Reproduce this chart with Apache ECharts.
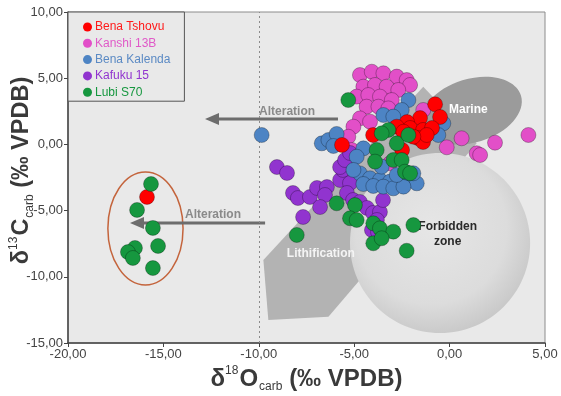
<!DOCTYPE html>
<html>
<head>
<meta charset="utf-8">
<script src="https://cdn.jsdelivr.net/npm/echarts@6/dist/echarts.min.js"></script>
<style>
  html, body { margin: 0; padding: 0; background: #fff; }
  #chart { width: 561px; height: 396px; }
</style>
</head>
<body>
<div id="chart"></div>
<script>
// sample values [δ18O, δ13C]
const benaTshovu = [
  [-0.76, 3.03], [-0.50, 2.07], [-1.55, 1.99], [-2.23, 1.69], [-2.07, 1.24], [-1.39, 1.09],
  [-0.92, 1.24], [-1.66, 0.48], [-1.39, 0.18], [-2.77, 1.34], [-2.42, 0.96], [-4.01, 0.71],
  [-5.64, -0.04], [-2.49, -0.42], [-1.20, 0.71], [-1.90, 0.58], [-15.86, -3.97]
];
const kanshi13B = [
  [-4.70, 5.24], [-4.08, 5.49], [-3.47, 5.37], [-2.77, 5.12], [-2.25, 4.86], [-2.07, 4.49],
  [-4.52, 4.36], [-3.91, 4.49], [-3.30, 4.36], [-2.69, 4.11], [-4.87, 3.61], [-4.26, 3.73],
  [-3.65, 3.61], [-3.03, 3.35], [-4.35, 2.85], [-3.73, 2.85], [-3.21, 2.72], [-4.70, 1.97],
  [-4.17, 1.72], [-5.04, 1.34], [-5.31, 0.58], [-5.13, -0.42], [-1.38, 2.60], [-3.12, -1.43],
  [-0.15, -0.22], [0.63, 0.46], [1.42, -0.67], [1.60, -0.80], [2.38, 0.13], [4.13, 0.71]
];
const benaKalenda = [
  [-9.85, 0.71], [-6.70, 0.08], [-6.35, 0.33], [-5.92, 0.79], [-6.09, -0.12], [-2.16, 3.35],
  [-2.51, 2.60], [-3.47, 2.22], [-2.95, 2.10], [-0.33, 1.59], [-0.59, 0.71], [-4.52, -0.30],
  [-4.87, -0.93], [-4.70, -2.19], [-4.17, -2.56], [-3.65, -2.69], [-3.12, -2.81], [-2.60, -2.94],
  [-2.07, -2.69], [-1.72, -2.94], [-4.52, -2.99], [-4.00, -3.14], [-3.47, -3.19], [-2.95, -3.32],
  [-2.42, -3.19], [-2.77, -2.31], [-2.25, -2.13], [-5.04, -1.93], [-1.90, -2.18], [-3.56, -1.68]
];
const kafuku15 = [
  [-9.05, -1.71], [-8.52, -2.16], [-8.21, -3.67], [-7.95, -4.05], [-7.32, -3.97], [-6.95, -3.29],
  [-6.43, -3.22], [-6.53, -3.82], [-6.79, -4.73], [-7.68, -5.48], [-5.74, -2.69], [-5.59, -1.93],
  [-5.74, -1.71], [-5.22, -2.92], [-5.38, -3.67], [-5.06, -4.20], [-4.70, -4.35], [-4.33, -4.80],
  [-4.01, -5.18], [-3.65, -5.11], [-3.49, -4.20], [-3.81, -5.71], [-4.07, -6.47], [-5.48, -1.18],
  [-5.22, -0.65], [-3.75, -6.62]
];
const lubiS70 = [
  [-5.31, 3.35], [-3.21, 1.09], [-3.56, 0.84], [-2.77, 0.08], [-2.16, 0.71], [-3.82, -0.42],
  [-3.91, -1.30], [-2.95, -1.18], [-2.51, -1.18], [-2.34, -2.06], [-2.07, -2.18], [-5.92, -4.45],
  [-4.96, -4.58], [-5.22, -5.58], [-4.87, -5.71], [-4.00, -5.96], [-3.65, -6.34], [-2.95, -6.59],
  [-1.90, -6.09], [-4.00, -7.47], [-3.56, -7.09], [-2.25, -8.03], [-8.01, -6.84],
  [-15.65, -2.99], [-16.38, -4.95], [-15.55, -6.31], [-15.28, -7.67], [-16.49, -7.82],
  [-16.86, -8.13], [-16.60, -8.58], [-15.55, -9.34]
];

const seriesNames = ['Bena Tshovu', 'Kanshi 13B', 'Bena Kalenda', 'Kafuku 15', 'Lubi S70'];
const seriesColors = ['#ff0000', '#e24fc8', '#4d84c4', '#9134cf', '#16973f'];
const legendTextColors = ['#ff1a1a', '#e05ac8', '#5b8ac4', '#9134cf', '#16973f'];

// background annotation shapes, in data units
const bandPoly = [[-9.76, -8.73], [-9.50, -13.26], [-6.35, -13.01], [1.42, 0.08], [-1.38, 4.36]];
const marine = { c: [1.16, 2.55], r: [2.7, 2.4] };
const forbidden = { c: [-0.50, -7.45], r: [4.72, 6.8] };
const cluster = { c: [-15.94, -6.35], r: [1.97, 4.27] };
const arrows = [
  { from: [-5.85, 1.92], to: [-12.82, 1.92], label: [-8.52, 2.45] },
  { from: [-9.67, -5.94], to: [-16.75, -5.94], label: [-12.40, -5.28] }
];

const chart = echarts.init(document.getElementById('chart'));
const fmt = v => v.toFixed(2).replace('.', ',');
const font = 'Liberation Sans, Arial, sans-serif';

function renderShapes(params, api) {
  const kids = [];
  kids.push({
    type: 'polygon',
    shape: { points: bandPoly.map(p => api.coord(p)) },
    style: { fill: '#b3b3b3' }
  });
  let c = api.coord(forbidden.c), s = api.size(forbidden.r);
  kids.push({
    type: 'ellipse',
    shape: { cx: c[0], cy: c[1], rx: s[0], ry: s[1] },
    style: {
      fill: {
        type: 'radial', x: 0.45, y: 0.42, r: 0.6,
        colorStops: [
          { offset: 0, color: '#e6e6e6' },
          { offset: 0.7, color: '#dcdcdc' },
          { offset: 1, color: '#c8c8c8' }
        ]
      }
    }
  });
  c = api.coord(marine.c); s = api.size(marine.r);
  kids.push({
    type: 'ellipse',
    x: c[0], y: c[1], rotation: 0.3,
    shape: { cx: 0, cy: 0, rx: s[0], ry: s[1] },
    style: { fill: '#9b9b9b' }
  });
  c = api.coord(cluster.c); s = api.size(cluster.r);
  kids.push({
    type: 'ellipse',
    shape: { cx: c[0], cy: c[1], rx: s[0], ry: s[1] },
    style: { fill: null, stroke: '#c4643c', lineWidth: 1.5 }
  });
  arrows.forEach(a => {
    const p1 = api.coord(a.from), p2 = api.coord(a.to);
    kids.push({
      type: 'line',
      shape: { x1: p1[0], y1: p1[1], x2: p2[0] + 10, y2: p2[1] },
      style: { stroke: '#6d6d6d', lineWidth: 3 }
    });
    kids.push({
      type: 'polygon',
      shape: { points: [[p2[0], p2[1]], [p2[0] + 14, p2[1] - 6], [p2[0] + 14, p2[1] + 6]] },
      style: { fill: '#6d6d6d' }
    });
    const l = api.coord(a.label);
    kids.push({
      type: 'text', x: l[0], y: l[1],
      style: { text: 'Alteration', fill: '#8a8a8a', font: 'bold 12px ' + font, align: 'center', verticalAlign: 'middle' }
    });
  });
  const txt = (pos, text, fill) => {
    const p = api.coord(pos);
    kids.push({
      type: 'text', x: p[0], y: p[1],
      style: { text: text, fill: fill, font: 'bold 12px ' + font, align: 'center', verticalAlign: 'middle', lineHeight: 15 }
    });
  };
  txt([0.98, 2.60], 'Marine', '#ffffff');
  txt([-6.75, -8.25], 'Lithification', '#f4f4f4');
  txt([-0.10, -6.8], 'Forbidden\nzone', '#2a2a2a');
  return { type: 'group', children: kids };
}

const allData = [kanshi13B, kafuku15, benaKalenda, benaTshovu, lubiS70];
const order = [1, 3, 2, 0, 4];

const scatterSeries = order.map((idx, k) => ({
  name: seriesNames[idx],
  type: 'scatter',
  data: allData[k],
  symbolSize: 15,
  z: 5 + k,
  itemStyle: { color: seriesColors[idx], borderColor: 'rgba(0,0,0,0.35)', borderWidth: 0.8, opacity: 1 }
}));

const makeRich = size => ({
  b: { fontSize: size, fontWeight: 'bold', color: '#3a3a3a', fontFamily: font, lineHeight: 28 },
  sup: { fontSize: 12, color: '#3a3a3a', fontFamily: font, verticalAlign: 'top', padding: [0, 1, 9, 0] },
  sub: { fontSize: 12, color: '#3a3a3a', fontFamily: font, verticalAlign: 'bottom', padding: [11, 0, 0, 1] }
});

chart.setOption({
  animation: false,
  textStyle: { fontFamily: font },
  grid: {
    left: 68, right: 16, top: 12, bottom: 53,
    outerBoundsMode: 'none', containLabel: false,
    show: true, backgroundColor: '#e9e9e9', borderColor: '#8c8c8c', borderWidth: 1
  },
  legend: {
    orient: 'vertical', left: 68, top: 12,
    icon: 'circle', itemWidth: 9, itemHeight: 9, itemGap: 2.3,
    padding: [8, 14, 2, 15],
    backgroundColor: '#e9e9e9', borderColor: '#555', borderWidth: 1,
    itemStyle: { borderWidth: 0 },
    textStyle: { fontSize: 12, fontFamily: font, lineHeight: 14, padding: [0, 0, 0, -2] },
    data: seriesNames.map((n, i) => ({ name: n, textStyle: { color: legendTextColors[i] } }))
  },
  xAxis: {
    type: 'value', min: -20, max: 5, interval: 5,
    axisLine: { onZero: false, lineStyle: { color: '#444', width: 1.5 } },
    axisTick: { show: true, length: 4, lineStyle: { color: '#444' } },
    axisLabel: { formatter: fmt, color: '#444', fontSize: 13, margin: 5 },
    splitLine: { show: false },
    name: '{b|δ}{sup|18}{b|O}{sub|carb}{b| (‰ VPDB)}',
    nameLocation: 'middle', nameGap: 22, nameMoveOverlap: false,
    nameTextStyle: { rich: makeRich(24) }
  },
  yAxis: {
    type: 'value', min: -15, max: 10, interval: 5,
    axisLine: { onZero: false, lineStyle: { color: '#444', width: 1.5 } },
    axisTick: { show: true, length: 4, lineStyle: { color: '#444' } },
    axisLabel: { formatter: fmt, color: '#444', fontSize: 13, margin: 5 },
    splitLine: { show: false },
    name: '{b|δ}{sup|13}{b|C}{sub|carb}{b| (‰ VPDB)}',
    nameLocation: 'middle', nameGap: 32, nameRotate: 90, nameMoveOverlap: false,
    nameTextStyle: { padding: [0, 0, 0, 14], rich: makeRich(23.5) }
  },
  series: [
    {
      type: 'custom',
      name: 'shapes',
      silent: true,
      clip: true,
      z: 1,
      data: [[0, 0]],
      renderItem: renderShapes,
      markLine: {
        silent: true, symbol: 'none', label: { show: false },
        lineStyle: { color: '#8a8a8a', type: [2, 3], width: 1 },
        data: [{ xAxis: -10 }]
      }
    }
  ].concat(scatterSeries)
});
</script>
</body>
</html>
